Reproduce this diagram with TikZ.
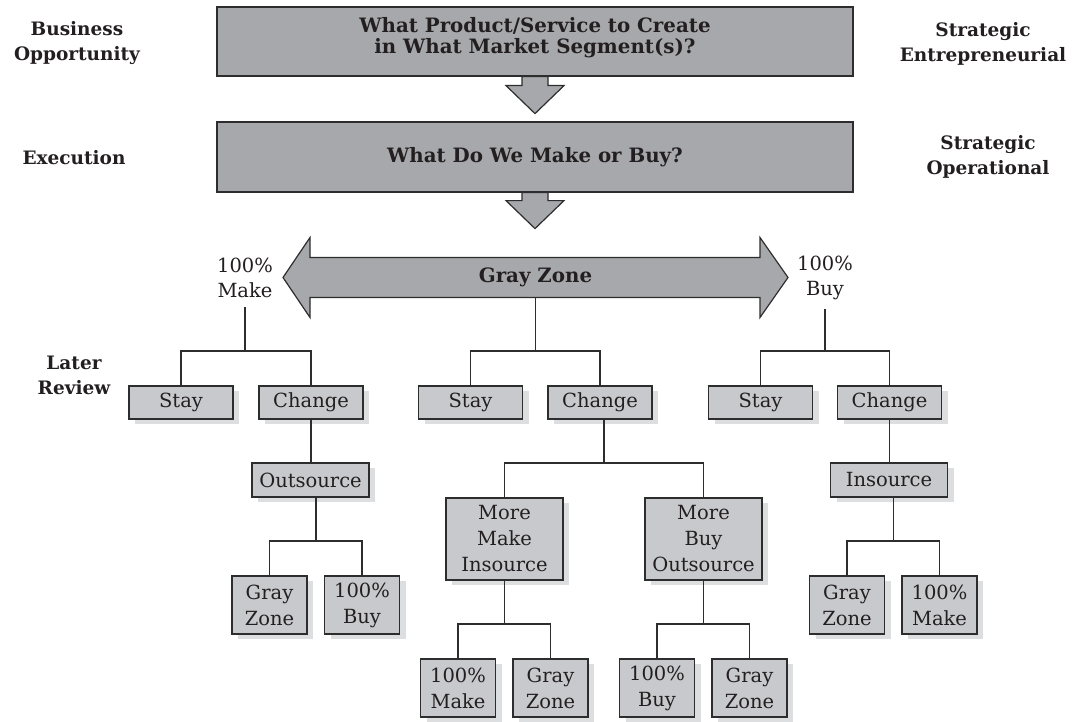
\documentclass[tikz,border=0pt]{standalone}
\usepackage{fontspec}
\setmainfont{DejaVu Serif}
\usetikzlibrary{calc,shadows}

\definecolor{boxfill}{RGB}{200,201,204}
\definecolor{darkfill}{RGB}{167,168,171}
\definecolor{shade}{RGB}{221,222,224}
\definecolor{edge}{RGB}{45,45,45}
\definecolor{ink}{RGB}{35,31,32}

\begin{document}
\begin{tikzpicture}[x=1pt,y=-1pt,
  every node/.style={text=ink},
  regtxt/.style={font=\fontsize{19.5}{25}\selectfont, align=center, inner sep=0pt},
  boldtxt/.style={font=\fontsize{18.5}{25}\bfseries, align=center, inner sep=0pt},
  titletxt/.style={font=\fontsize{19.8}{20.5}\bfseries, align=center, inner sep=0pt},
  boxbase/.style={draw=edge, line width=1.2pt, fill=boxfill, inner sep=0pt,
    align=center, font=\fontsize{19.5}{26}\selectfont,
    general shadow={fill=shade, shadow xshift=6pt, shadow yshift=-5pt}},
  onebox/.style={boxbase, minimum width=104, minimum height=33},
  widebox/.style={boxbase, minimum width=117, minimum height=34},
  twobox/.style={boxbase, minimum width=75, minimum height=58},
  threebox/.style={boxbase, minimum width=117, minimum height=82},
  bigbox/.style={draw=edge, line width=1.2pt, fill=darkfill, minimum width=636, inner sep=0pt},
  fatarrow/.style={draw=edge, line width=1.2pt, fill=darkfill, line join=miter},
  conn/.style={draw=edge, line width=1.2pt}
]
\useasboundingbox (0,0) rectangle (1083,722);

% ---- decision level boxes
\node[bigbox, minimum height=69] (q1) at (535,41.5) {};
\node[titletxt] (q1t) at ([yshift=4pt]q1.center)
  {What Product/Service to Create\\in What Market Segment(s)?};
\node[bigbox, minimum height=70] (q2) at (535,157) {};
\node[titletxt] (q2t) at (q2.center) {What Do We Make or Buy?};

% ---- downward block arrows
\draw[fatarrow] (q1.south) ++(-13,0) -- ++(0,9) -- ++(-16,0) -- ++(29,28)
  -- ++(29,-28) -- ++(-16,0) -- ++(0,-9) -- cycle;
\draw[fatarrow] (q2.south) ++(-13,0) -- ++(0,8) -- ++(-16,0) -- ++(29,28)
  -- ++(29,-28) -- ++(-16,0) -- ++(0,-8) -- cycle;

% ---- side labels
\node[boldtxt] (lbiz) at (77,43.5) {Business\\Opportunity};
\node[boldtxt] (lexe) at (74,157.5) {Execution};
\node[boldtxt] (lent) at (983,44) {Strategic\\Entrepreneurial};
\node[boldtxt] (lope) at (988,157) {Strategic\\Operational};
\node[boldtxt] (llat) at (74,375) {Later\\Review};

% ---- gray zone double arrow
\draw[fatarrow] (283,277.5) -- (310,237.5) -- (310,257.5) -- (760,257.5)
  -- (760,237.5) -- (788,277.5) -- (760,317.5) -- (760,297.5) -- (310,297.5)
  -- (310,317.5) -- cycle;
\node[titletxt] (gz) at (535.5,277.5) {Gray Zone};
\coordinate (gzb) at (535.5,297.5);

\node[regtxt] (makeL) at (245,278) {100\%\\Make};
\node[regtxt] (buyR) at (825,278) {100\%\\Buy};

% ---- first review level
\node[onebox] (stayL) at (181,402.5) {Stay};
\node[onebox] (chgL)  at (311,402.5) {Change};
\node[onebox] (stayC) at (470.5,402.5) {Stay};
\node[onebox] (chgC)  at (600,402.5) {Change};
\node[onebox] (stayR) at (760.5,402.5) {Stay};
\node[onebox] (chgR)  at (889.5,402.5) {Change};

% ---- second level
\node[widebox] (outL) at (310.5,480) {Outsource};
\node[widebox] (insR) at (889,480) {Insource};
\node[threebox] (mmi) at (504.5,539) {More\\Make\\Insource};
\node[threebox] (mbo) at (703.5,539) {More\\Buy\\Outsource};

% ---- outcome boxes
\node[twobox] (gzL)  at (269.5,605) {Gray\\Zone};
\node[twobox] (buyL) at (362,605)   {100\%\\Buy};
\node[twobox] (gzR)  at (847,605)   {Gray\\Zone};
\node[twobox] (mkR)  at (939.5,605) {100\%\\Make};
\node[twobox] (mkC)  at (458,688)   {100\%\\Make};
\node[twobox] (gzC1) at (550.5,688) {Gray\\Zone};
\node[twobox] (buyC) at (657,688)   {100\%\\Buy};
\node[twobox] (gzC2) at (749.5,688) {Gray\\Zone};

% ---- junction points of the tree
\coordinate (jL) at (245,351);
\coordinate (jC) at (535.5,351);
\coordinate (jR) at (825,351);
\coordinate (jL2) at (316,541);
\coordinate (jC2) at (604,463);
\coordinate (jR2) at (893.5,541);
\coordinate (jC3) at (504.5,624);
\coordinate (jC4) at (703.5,624);

% ---- connectors
\draw[conn] ([yshift=-9pt]makeL.south) -- (jL);
\draw[conn] (stayL.north) |- (jL) -| (chgL.north);
\draw[conn] (gzb) -- (jC);
\draw[conn] (stayC.north) |- (jC) -| (chgC.north);
\draw[conn] ([yshift=-9pt]buyR.south) -- (jR);
\draw[conn] (stayR.north) |- (jR) -| (chgR.north);

\draw[conn] (chgL.south) -- (chgL.south |- outL.north);
\draw[conn] ([xshift=5.5pt]outL.south) -- (jL2);
\draw[conn] (gzL.north) |- (jL2) -| (buyL.north);

\draw[conn] ([xshift=4pt]chgC.south) -- (jC2);
\draw[conn] (mmi.north) |- (jC2) -| (mbo.north);
\draw[conn] (mmi.south) -- (jC3);
\draw[conn] (mkC.north) |- (jC3) -| (gzC1.north);
\draw[conn] (mbo.south) -- (jC4);
\draw[conn] (buyC.north) |- (jC4) -| (gzC2.north);

\draw[conn] (chgR.south) -- (chgR.south |- insR.north);
\draw[conn] ([xshift=4.5pt]insR.south) -- (jR2);
\draw[conn] (gzR.north) |- (jR2) -| (mkR.north);
\end{tikzpicture}
\end{document}
